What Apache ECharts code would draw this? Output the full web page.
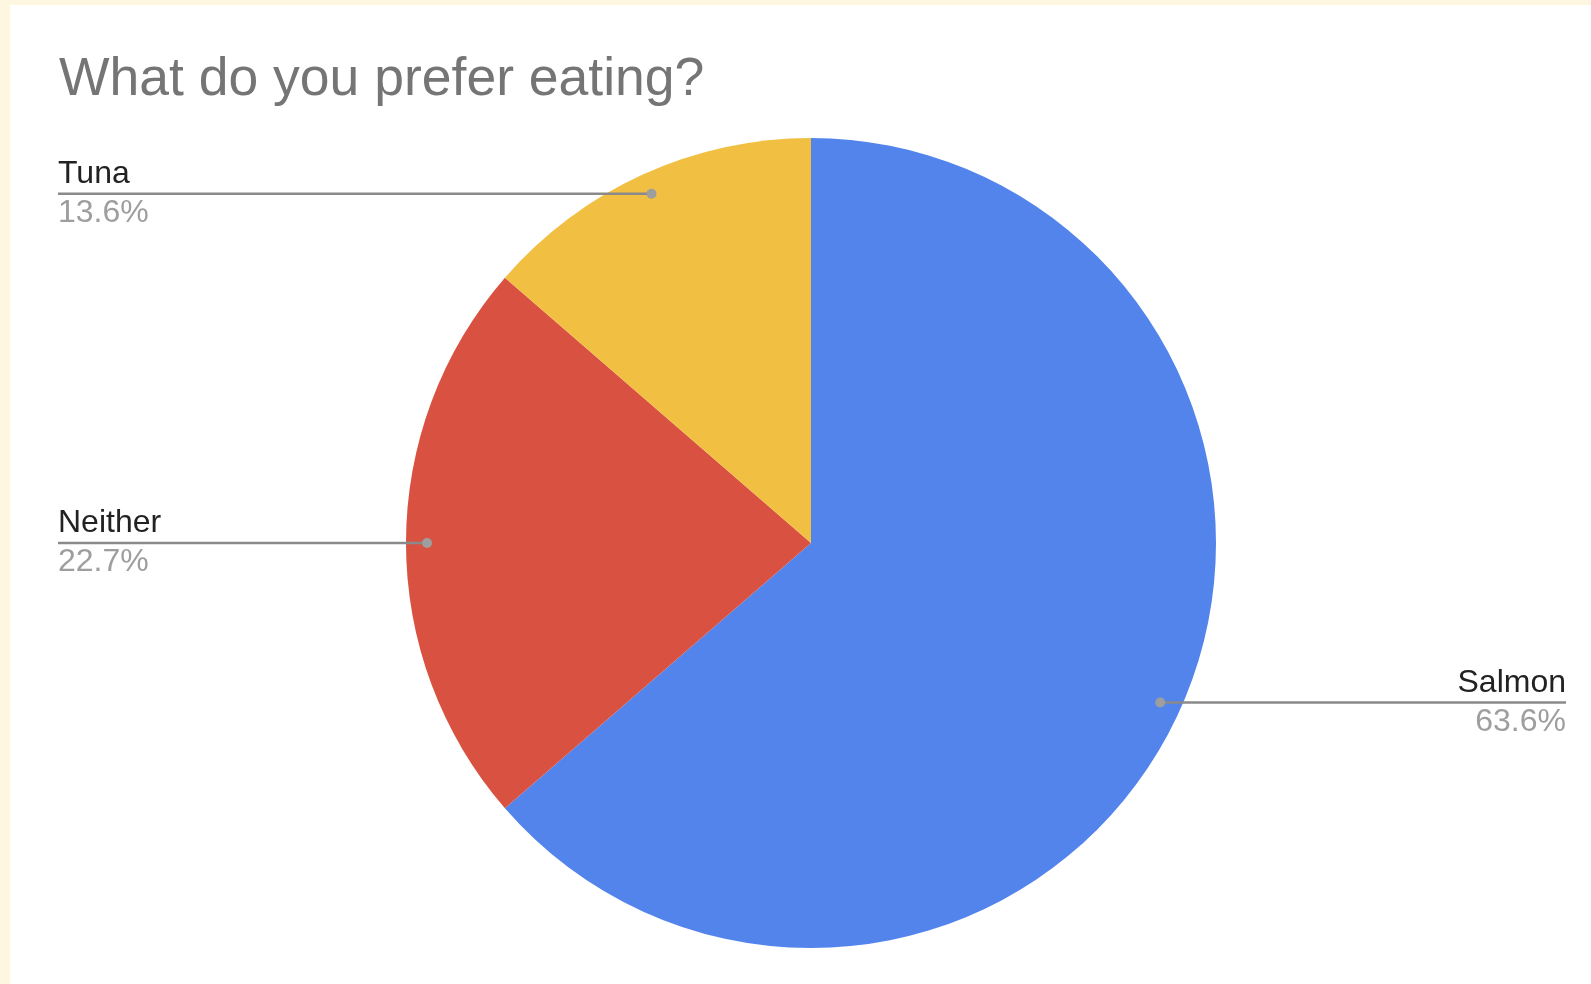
<!DOCTYPE html>
<html>
<head>
<meta charset="utf-8">
<script src="https://cdn.jsdelivr.net/npm/echarts@6/dist/echarts.min.js"></script>
<style>
  html, body { margin: 0; padding: 0; width: 1591px; height: 984px; background: #fdf6e0; overflow: hidden; }
  #paper { position: absolute; left: 10px; top: 5px; right: 0; bottom: 0; background: #ffffff; }
  #chart { position: absolute; left: 0; top: 0; width: 1591px; height: 984px; }
</style>
</head>
<body>
<div id="paper"></div>
<div id="chart"></div>
<script>
// ---- data ----
const categories = ['Salmon', 'Neither', 'Tuna'];
const values = [14, 5, 3];
const colors = ['#5384ec', '#d95140', '#f1bf42'];
const titleText = 'What do you prefer eating?';

// ---- layout constants ----
const CX = 811, CY = 543, R = 405;
const DOT_RATIO = 0.948;
const LEFT_X = 58, RIGHT_X = 1566;

const total = values.reduce((a, b) => a + b, 0);
function midValue(i) {
  let s = 0;
  for (let k = 0; k < i; k++) s += values[k];
  return s + values[i] / 2;
}
function midAngle(i) { return midValue(i) / total * Math.PI * 2; }

const chart = echarts.init(document.getElementById('chart'), null, { renderer: 'canvas' });
const FONT = "'Liberation Sans', Arial, sans-serif";

chart.setOption({
  animation: false,
  backgroundColor: 'transparent',
  title: {
    text: titleText,
    left: 54,
    top: 48,
    textStyle: { fontFamily: FONT, fontSize: 53.5, fontWeight: 'normal', color: '#757575' }
  },
  polar: { center: [CX, CY], radius: R },
  angleAxis: { type: 'value', min: 0, max: total, startAngle: 90, clockwise: true, show: false },
  radiusAxis: { type: 'value', min: 0, max: 1, show: false },
  series: [
    {
      type: 'pie',
      center: [CX, CY],
      radius: [0, R],
      startAngle: 90,
      clockwise: true,
      z: 2,
      itemStyle: { borderWidth: 0 },
      label: { show: false },
      labelLine: { show: false },
      data: categories.map((c, i) => ({ name: c, value: values[i], itemStyle: { color: colors[i] } })),
      emphasis: { disabled: true },
      silent: true
    },
    {
      // transparent overlay pie that only carries the labels and leader lines
      type: 'pie',
      center: [CX, CY],
      radius: [0, R],
      startAngle: 90,
      clockwise: true,
      z: 5,
      silent: true,
      avoidLabelOverlap: false,
      itemStyle: { color: 'rgba(0,0,0,0)', borderWidth: 0 },
      data: categories.map((c, i) => ({ name: c, value: values[i] })),
      label: {
        show: true,
        position: 'outside',
        formatter: function (p) {
          const i = p.dataIndex;
          return '{n|' + categories[i] + '}\n{p|' + (values[i] / total * 100).toFixed(1) + '%}';
        },
        rich: {
          n: { fontFamily: FONT, fontSize: 32, color: '#222222', lineHeight: 39 },
          p: { fontFamily: FONT, fontSize: 32, color: '#9e9e9e', lineHeight: 39 }
        }
      },
      labelLine: { show: true, lineStyle: { color: '#8a8a8a', width: 2.5 } },
      labelLayout: function (params) {
        const i = params.dataIndex;
        const a = midAngle(i);
        const dx = CX + R * DOT_RATIO * Math.sin(a);
        const dy = CY - R * DOT_RATIO * Math.cos(a);
        const right = Math.sin(a) > 0;
        const ex = right ? RIGHT_X : LEFT_X;
        return {
          x: ex,
          y: dy,
          align: right ? 'right' : 'left',
          verticalAlign: 'middle',
          labelLinePoints: [[dx, dy], [dx, dy], [ex, dy]]
        };
      },
      emphasis: { disabled: true }
    },
    {
      type: 'scatter',
      coordinateSystem: 'polar',
      symbol: 'circle',
      symbolSize: 10,
      itemStyle: { color: '#9e9e9e', opacity: 1 },
      z: 10,
      silent: true,
      data: categories.map((c, i) => [DOT_RATIO, midValue(i)])
    }
  ]
});
</script>
</body>
</html>
